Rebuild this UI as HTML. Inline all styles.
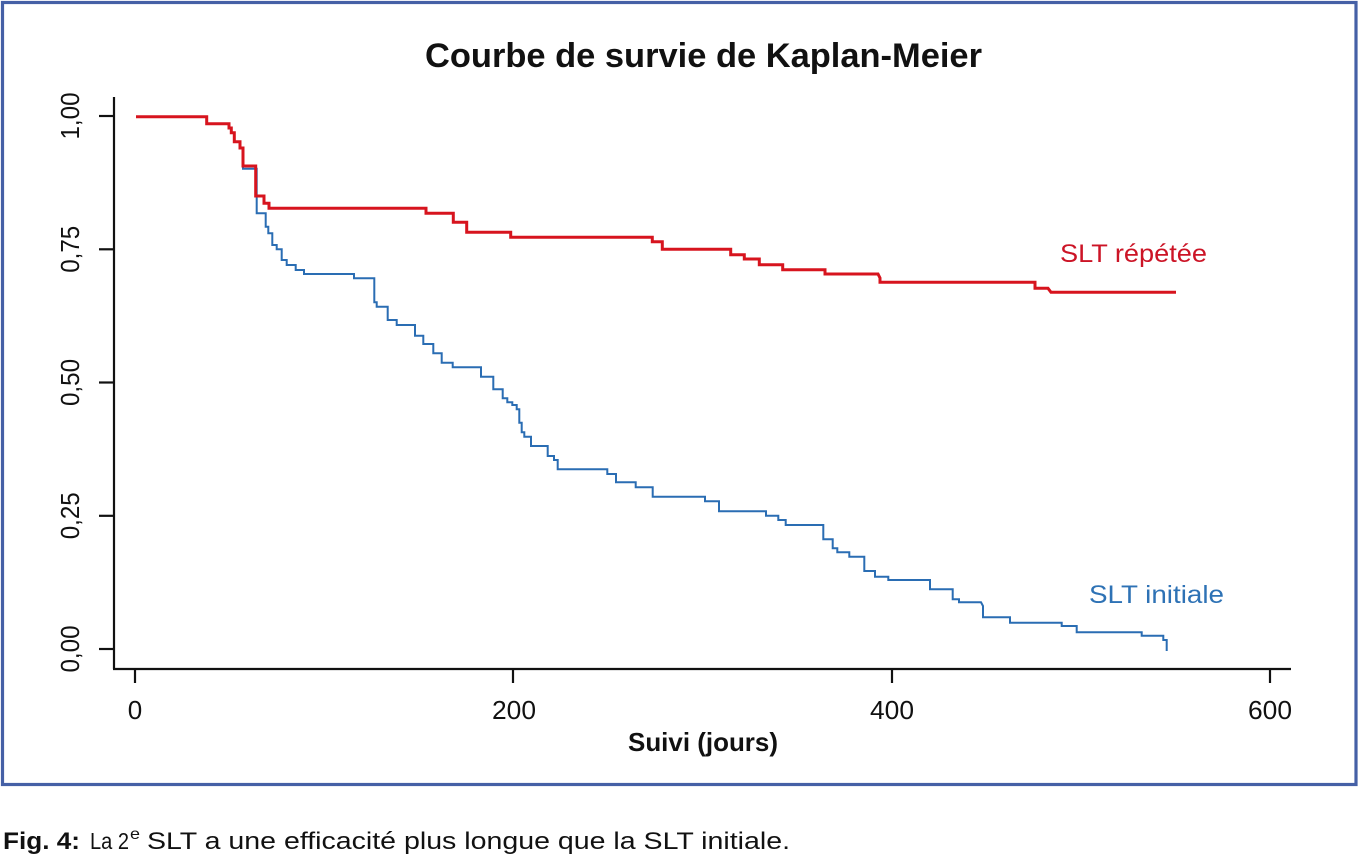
<!DOCTYPE html>
<html>
<head>
<meta charset="utf-8">
<style>
  html, body { margin: 0; padding: 0; background: #ffffff; }
  svg { display: block; }
  text { font-family: "Liberation Sans", "DejaVu Sans", sans-serif; }
</style>
</head>
<body>
<svg width="1359" height="856" viewBox="0 0 1359 856" xmlns="http://www.w3.org/2000/svg">
  <rect x="0" y="0" width="1359" height="856" fill="#ffffff"/>
  <!-- frame -->
  <rect x="2.5" y="2.5" width="1353.5" height="782" fill="none" stroke="#4560a6" stroke-width="3.2"/>

  <!-- title -->
  <text x="425" y="67" font-size="34" font-weight="bold" fill="#111" textLength="557" lengthAdjust="spacingAndGlyphs">Courbe de survie de Kaplan-Meier</text>

  <!-- axes -->
  <g stroke="#111" stroke-width="2.2" fill="none">
    <line x1="114" y1="97" x2="114" y2="669"/>
    <line x1="113" y1="669" x2="1291" y2="669"/>
    <line x1="99" y1="116" x2="114" y2="116"/>
    <line x1="99" y1="249.3" x2="114" y2="249.3"/>
    <line x1="99" y1="382.5" x2="114" y2="382.5"/>
    <line x1="99" y1="515.8" x2="114" y2="515.8"/>
    <line x1="99" y1="649" x2="114" y2="649"/>
    <line x1="135" y1="669" x2="135" y2="683"/>
    <line x1="513" y1="669" x2="513" y2="683"/>
    <line x1="892" y1="669" x2="892" y2="683"/>
    <line x1="1270" y1="669" x2="1270" y2="683"/>
  </g>

  <!-- y tick labels -->
  <g font-size="26" fill="#111" text-anchor="middle">
    <text transform="translate(79,116) rotate(-90)" textLength="47" lengthAdjust="spacingAndGlyphs">1,00</text>
    <text transform="translate(79,249.3) rotate(-90)" textLength="47" lengthAdjust="spacingAndGlyphs">0,75</text>
    <text transform="translate(79,382.5) rotate(-90)" textLength="47" lengthAdjust="spacingAndGlyphs">0,50</text>
    <text transform="translate(79,515.8) rotate(-90)" textLength="47" lengthAdjust="spacingAndGlyphs">0,25</text>
    <text transform="translate(79,649) rotate(-90)" textLength="47" lengthAdjust="spacingAndGlyphs">0,00</text>
  </g>

  <!-- x tick labels -->
  <g font-size="26" fill="#111" text-anchor="middle">
    <text x="135" y="719">0</text>
    <text x="514" y="719" textLength="44" lengthAdjust="spacingAndGlyphs">200</text>
    <text x="892" y="719" textLength="44" lengthAdjust="spacingAndGlyphs">400</text>
    <text x="1270" y="719" textLength="44" lengthAdjust="spacingAndGlyphs">600</text>
  </g>

  <!-- x axis title -->
  <text x="628" y="751" font-size="26" font-weight="bold" fill="#111" textLength="150" lengthAdjust="spacingAndGlyphs">Suivi (jours)</text>

  <!-- blue curve: SLT initiale -->
  <path fill="none" stroke="#2a6db3" stroke-width="2" stroke-linejoin="miter"
    d="M136,116.7 H206.7 V123.7 H229 V128 H231.3 V132.7 H234.3 V141.7 H240 V148 H243 V168.7 H256.7 V213.3 H265.7 V226.7 H268.3 V233.3 H272.3 V245 H276.7 V249.3 H281.7 V260 H286.7 V265 H295.7 V270 H304 V274 H354 V278.3 H374.3 V302.3 H376.7 V306.7 H387.7 V320 H396.7 V325 H415 V335.7 H423.3 V344 H433.3 V353.3 H441.7 V362.7 H452.7 V367.3 H481 V376.7 H493.3 V389.3 H502.7 V398.3 H507.3 V402.3 H512.3 V405 H516.7 V409.3 H519.3 V422.7 H521.7 V432.3 H524.3 V436.7 H531 V446 H547.7 V456 H554 V460 H557.7 V469.3 H607.3 V474 H616 V482.3 H635.7 V487.3 H652.7 V496.7 H705 V501.3 H719 V511.3 H766 V515.7 H778.3 V520 H785.7 V525 H823.3 V539.3 H832.7 V548.3 H837.3 V552.3 H849.3 V556.7 H864.3 V571 H875 V576.7 H888.3 V580 H930 V589.3 H952.7 V599.3 H959 V602.3 H981 L983,606 V617.3 H1010 V622.7 H1061.7 V626 H1076.7 V632.3 H1141.7 V635.7 H1163.3 V640 H1166.7 V651"/>

  <!-- red curve: SLT répétée -->
  <path fill="none" stroke="#d7141e" stroke-width="3" stroke-linejoin="miter"
    d="M136,116.7 H206.7 V123.7 H229 V128 H231.3 V132.7 H234.3 V141.7 H240 V148 H243 V166 H255.7 V196 H264 V203.3 H269 V208.3 H426 V213.3 H453.3 V222.3 H466.7 V232.3 H510.7 V237.3 H652.3 V241.7 H662.3 V249.3 H730.7 V254.7 H744.3 V259 H759.3 V264.7 H782.7 V269.7 H825 V274 H878 L880,278 V282.3 H1035 V288.3 H1048 L1051,292.3 H1176"/>

  <!-- series labels -->
  <text x="1060" y="262" font-size="25" fill="#cc1426" textLength="147" lengthAdjust="spacingAndGlyphs">SLT répétée</text>
  <text x="1089" y="603" font-size="25" fill="#2e72b5" textLength="135" lengthAdjust="spacingAndGlyphs">SLT initiale</text>

  <!-- caption -->
  <text x="3" y="849" font-size="24" font-weight="bold" fill="#111" textLength="77" lengthAdjust="spacingAndGlyphs">Fig. 4:</text>
  <text x="90" y="849" font-size="23" fill="#111" textLength="39" lengthAdjust="spacingAndGlyphs">La 2</text>
  <text x="130" y="839" font-size="16" fill="#111" textLength="10" lengthAdjust="spacingAndGlyphs">e</text>
  <text x="147" y="849" font-size="24" fill="#111" textLength="643" lengthAdjust="spacingAndGlyphs">SLT a une efficacité plus longue que la SLT initiale.</text>
</svg>
</body>
</html>
